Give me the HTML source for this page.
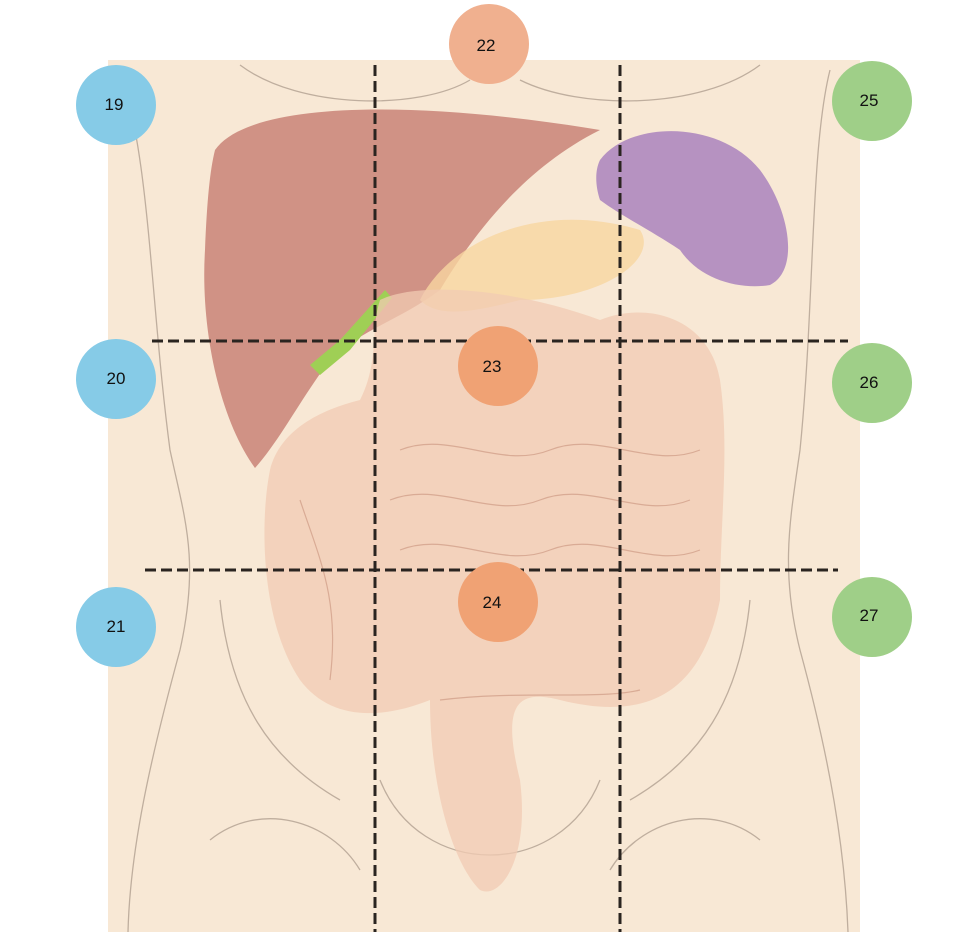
<!DOCTYPE html>
<html><head><style>
html,body{margin:0;padding:0;background:#fff;}
svg{display:block;}
text{font-family:"Liberation Sans",sans-serif;font-size:17px;fill:#111;text-anchor:middle;}
</style></head><body>
<svg width="970" height="932" viewBox="0 0 970 932">
<rect x="108" y="60" width="752" height="872" fill="#f8e8d5"/>
<g fill="none" stroke="#bfae9e" stroke-width="1.3">
<path d="M118 66 C150 150 150 300 170 450 C185 520 200 560 180 650 C150 760 130 850 128 932"/>
<path d="M830 70 C810 150 815 300 800 450 C790 520 780 570 800 650 C830 760 845 850 848 932"/>
<path d="M240 65 C300 110 420 110 470 80 M520 80 C580 110 700 110 760 65"/>
<path d="M220 600 C230 700 270 760 340 800 M750 600 C740 700 700 760 630 800"/>
<path d="M210 840 C260 800 330 820 360 870 M760 840 C710 800 640 820 610 870"/>
<path d="M380 780 C420 880 560 880 600 780"/>
</g>
<path d="M215 150 C250 100 420 100 600 130 C520 170 470 240 440 290 C400 320 360 330 330 360 C300 400 280 440 255 468 C220 420 200 330 205 250 C207 200 210 170 215 150Z" fill="#c98377" opacity="0.85"/>
<path d="M420 300 C450 240 540 200 640 230 C660 260 600 300 520 300 C480 310 440 320 420 300Z" fill="#f8d6a0" opacity="0.8"/>
<path d="M600 160 C630 120 720 120 760 170 C790 210 800 270 770 285 C740 290 700 280 680 250 C650 230 620 215 600 200 C595 185 595 170 600 160Z" fill="#a57cbc" opacity="0.8"/>
<path d="M310 365 L340 340 L385 290 L392 298 L350 350 L320 375Z" fill="#9fcf55"/>
<path d="M380 300 C420 280 520 290 600 320 C650 300 710 320 720 380 C730 450 720 520 720 600 C700 700 640 720 560 700 C520 690 500 700 520 780 C530 860 500 900 480 890 C450 860 430 780 430 700 C380 720 330 720 300 680 C260 620 260 520 270 470 C280 430 320 410 360 400 C380 360 370 330 380 300Z" fill="#f1cbb3" opacity="0.75"/>
<g fill="none" stroke="#d9ab95" stroke-width="1.2">
<path d="M400 450 C450 430 500 470 550 450 C600 430 650 470 700 450 M390 500 C440 480 490 520 540 500 C590 480 640 520 690 500 M400 550 C450 530 500 570 550 550 C600 530 650 570 700 550 M300 500 C320 560 340 600 330 680 M440 700 C520 690 600 700 640 690"/>
</g>
<g stroke="#2a2420" stroke-width="3" stroke-dasharray="11 5" fill="none">
<line x1="375" y1="65" x2="375" y2="932"/>
<line x1="620" y1="65" x2="620" y2="932"/>
<line x1="152" y1="341" x2="848" y2="341"/>
<line x1="145" y1="570" x2="838" y2="570"/>
</g>
<g fill="#86cbe7"><circle cx="116" cy="105" r="40"/><circle cx="116" cy="379" r="40"/><circle cx="116" cy="627" r="40"/></g>
<circle cx="489" cy="44" r="40" fill="#f0b08f"/>
<g fill="#f0a274"><circle cx="498" cy="366" r="40"/><circle cx="498" cy="602" r="40"/></g>
<g fill="#9fcf88"><circle cx="872" cy="101" r="40"/><circle cx="872" cy="383" r="40"/><circle cx="872" cy="617" r="40"/></g>
<text x="114" y="110">19</text><text x="116" y="384">20</text><text x="116" y="632">21</text>
<text x="486" y="51">22</text><text x="492" y="372">23</text><text x="492" y="608">24</text>
<text x="869" y="106">25</text><text x="869" y="388">26</text><text x="869" y="621">27</text>
</svg>
</body></html>
